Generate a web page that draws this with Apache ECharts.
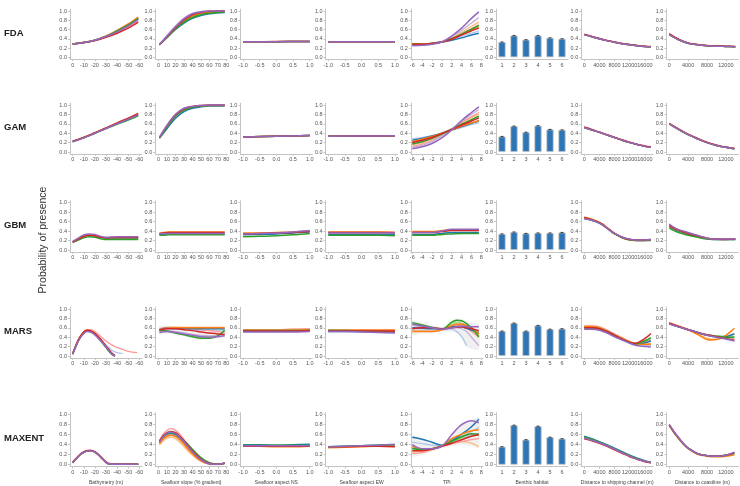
<!DOCTYPE html>
<html><head><meta charset="utf-8">
<script src="https://cdn.jsdelivr.net/npm/echarts@6/dist/echarts.min.js"></script>
<style>html,body{margin:0;padding:0;background:#fff}#c{width:740px;height:486px}</style>
</head><body><div id="c"></div>
<script>
// ---------------- labels & ticks ----------------
const models = ['FDA','GAM','GBM','MARS','MAXENT'];
const variables = ['Bathymetry (m)','Seafloor slope (% gradient)','Seafloor aspect NS','Seafloor aspect EW','TPI','Benthic habitat','Distance to shipping channel (m)','Distance to coastline (m)'];
const yTitle = 'Probability of presence';
const yTicks = [0,0.2,0.4,0.6,0.8,1.0];
const bathyTicks = [0,-10,-20,-30,-40,-50,-60];
const slopeTicks = [0,10,20,30,40,50,60,70,80];
const aspectTicks = [-1,-0.5,0,0.5,1];
const tpiTicks = [-6,-4,-2,0,2,4,6,8];
const habitatCats = ['1','2','3','4','5','6'];
const shipTicks = [0,4000,8000,12000,16000];
const coastTicks = [0,4000,8000,12000];

// line order in every panel: blue, orange, green, red, purple ; light: lightblue, lightorange, lightgreen, pink, lightpurple
// ---------------- FDA ----------------
const fdaBathyX = [0,-10,-20,-30,-40,-50,-59];
const fdaBathy = [
 [0.29,0.32,0.37,0.45,0.56,0.69,0.83],
 [0.29,0.32,0.37,0.46,0.58,0.72,0.87],
 [0.29,0.32,0.37,0.45,0.57,0.70,0.84],
 [0.29,0.32,0.36,0.43,0.52,0.63,0.76],
 [0.29,0.32,0.37,0.45,0.55,0.68,0.82]];
const fdaBathyLight = [
 [0.29,0.32,0.37,0.45,0.56,0.69,0.84],
 [0.29,0.32,0.37,0.46,0.57,0.71,0.86],
 [0.29,0.32,0.37,0.45,0.56,0.68,0.81],
 [0.29,0.32,0.36,0.44,0.54,0.66,0.79],
 [0.29,0.32,0.37,0.45,0.56,0.70,0.85]];
const fdaSlopeX = [1,10,20,30,40,50,60,70,78];
const fdaSlope = [
 [0.27,0.43,0.60,0.74,0.84,0.90,0.94,0.96,0.97],
 [0.27,0.44,0.62,0.78,0.89,0.95,0.98,0.99,0.99],
 [0.27,0.43,0.61,0.76,0.86,0.92,0.95,0.97,0.98],
 [0.27,0.45,0.64,0.81,0.92,0.97,0.99,1.00,1.00],
 [0.27,0.46,0.66,0.83,0.94,0.98,1.00,1.00,1.00]];
const fdaSlopeLight = [
 [0.27,0.44,0.62,0.77,0.87,0.93,0.96,0.98,0.98],
 [0.27,0.44,0.63,0.79,0.90,0.96,0.98,0.99,0.99],
 [0.27,0.43,0.61,0.77,0.88,0.94,0.97,0.98,0.99],
 [0.27,0.45,0.65,0.82,0.93,0.97,0.99,1.00,1.00],
 [0.28,0.47,0.68,0.85,0.95,0.99,1.00,1.00,1.00]];
const fdaNsX = [-1,0,1];
const fdaNs = [[0.335,0.338,0.342],[0.335,0.338,0.342],[0.335,0.338,0.342],[0.335,0.339,0.343],[0.335,0.338,0.342]];
const fdaEwX = [-1,0,1];
const fdaEw = [[0.337,0.337,0.337],[0.337,0.337,0.337],[0.337,0.337,0.337],[0.337,0.338,0.338],[0.337,0.337,0.337]];
const fdaTpiX = [-6,-4,-2,0,2,4,6,7.5];
const fdaTpi = [
 [0.29,0.29,0.30,0.33,0.37,0.42,0.48,0.52],
 [0.29,0.29,0.30,0.33,0.40,0.49,0.58,0.64],
 [0.28,0.28,0.30,0.33,0.40,0.50,0.61,0.69],
 [0.28,0.28,0.30,0.33,0.39,0.48,0.57,0.63],
 [0.25,0.26,0.28,0.33,0.46,0.63,0.84,0.98]];
const fdaTpiLight = [
 [0.28,0.28,0.30,0.33,0.38,0.45,0.52,0.57],
 [0.28,0.28,0.30,0.34,0.42,0.54,0.67,0.76],
 [0.28,0.28,0.30,0.33,0.40,0.50,0.60,0.66],
 [0.28,0.28,0.30,0.33,0.40,0.51,0.62,0.70],
 [0.27,0.27,0.29,0.34,0.44,0.58,0.74,0.86]];
const fdaHab = [0.33,0.47,0.38,0.47,0.42,0.40];
const fdaShipX = [0,2000,4000,6000,8000,10000,12000,14000,16000,17600];
const fdaShip = [
 [0.49,0.445,0.40,0.36,0.325,0.295,0.27,0.25,0.235,0.23],
 [0.49,0.445,0.40,0.36,0.325,0.295,0.27,0.25,0.235,0.23],
 [0.49,0.445,0.40,0.36,0.325,0.295,0.27,0.25,0.235,0.23],
 [0.50,0.45,0.405,0.365,0.33,0.30,0.275,0.255,0.24,0.235],
 [0.49,0.445,0.40,0.36,0.325,0.295,0.27,0.25,0.235,0.23]];
const fdaCoastX = [0,2000,4000,6000,8000,10000,12000,14000];
const fdaCoast = [
 [0.49,0.38,0.305,0.27,0.25,0.24,0.235,0.23],
 [0.49,0.38,0.305,0.27,0.25,0.24,0.235,0.23],
 [0.49,0.38,0.305,0.27,0.25,0.24,0.235,0.23],
 [0.51,0.39,0.31,0.275,0.255,0.245,0.24,0.235],
 [0.49,0.38,0.305,0.27,0.25,0.24,0.235,0.23]];

// ---------------- GAM ----------------
const gamBathyX = [0,-10,-20,-30,-40,-50,-59];
const gamBathy = [
 [0.23,0.31,0.40,0.50,0.60,0.69,0.78],
 [0.23,0.31,0.41,0.51,0.61,0.71,0.80],
 [0.22,0.30,0.40,0.50,0.59,0.68,0.77],
 [0.23,0.31,0.41,0.51,0.62,0.72,0.82],
 [0.22,0.30,0.40,0.50,0.60,0.70,0.79]];
const gamSlopeX = [1,10,20,30,40,50,60,70,78];
const gamSlope = [
 [0.29,0.50,0.72,0.86,0.93,0.96,0.98,0.98,0.98],
 [0.30,0.54,0.77,0.90,0.96,0.98,0.99,0.99,0.99],
 [0.30,0.53,0.76,0.89,0.95,0.98,0.99,0.99,0.99],
 [0.31,0.56,0.79,0.92,0.97,0.99,1.00,1.00,1.00],
 [0.31,0.57,0.80,0.93,0.97,0.99,1.00,1.00,1.00]];
const gamNsX = [-1,0,1];
const gamNs = [[0.32,0.335,0.35],[0.32,0.335,0.35],[0.32,0.335,0.35],[0.32,0.336,0.352],[0.32,0.335,0.35]];
const gamEwX = [-1,0,1];
const gamEw = [[0.335,0.34,0.345],[0.335,0.34,0.345],[0.335,0.34,0.345],[0.335,0.34,0.345],[0.335,0.34,0.345]];
const gamTpiX = [-6,-4,-2,0,2,4,6,7.5];
const gamTpi = [
 [0.25,0.29,0.34,0.40,0.47,0.54,0.61,0.66],
 [0.22,0.27,0.33,0.40,0.47,0.55,0.62,0.67],
 [0.17,0.22,0.29,0.38,0.48,0.59,0.69,0.76],
 [0.20,0.25,0.31,0.39,0.48,0.57,0.66,0.72],
 [0.07,0.11,0.18,0.30,0.47,0.67,0.84,0.96]];
const gamTpiLight = [
 [0.28,0.31,0.35,0.40,0.46,0.52,0.58,0.62],
 [0.15,0.20,0.28,0.38,0.50,0.62,0.73,0.80],
 [0.20,0.25,0.32,0.40,0.49,0.58,0.67,0.73],
 [0.12,0.17,0.25,0.36,0.49,0.63,0.75,0.84],
 [0.10,0.14,0.22,0.34,0.49,0.65,0.80,0.90]];
const gamHab = [0.33,0.55,0.42,0.56,0.48,0.47];
const gamShipX = [0,2000,4000,6000,8000,10000,12000,14000,16000,17600];
const gamShip = [
 [0.52,0.47,0.42,0.36,0.31,0.25,0.20,0.16,0.12,0.10],
 [0.52,0.47,0.42,0.36,0.31,0.25,0.20,0.16,0.12,0.10],
 [0.52,0.47,0.42,0.36,0.31,0.25,0.20,0.16,0.12,0.10],
 [0.53,0.48,0.42,0.37,0.31,0.26,0.21,0.16,0.13,0.11],
 [0.52,0.47,0.42,0.36,0.31,0.25,0.20,0.16,0.12,0.10]];
const gamCoastX = [0,2000,4000,6000,8000,10000,12000,13800];
const gamCoast = [
 [0.60,0.48,0.37,0.28,0.20,0.14,0.10,0.07],
 [0.60,0.48,0.37,0.28,0.20,0.14,0.10,0.07],
 [0.60,0.48,0.37,0.28,0.20,0.14,0.10,0.07],
 [0.61,0.49,0.38,0.29,0.21,0.15,0.10,0.08],
 [0.60,0.48,0.37,0.28,0.20,0.14,0.10,0.07]];

// ---------------- GBM ----------------
const gbmBathyX = [0,-5,-10,-15,-20,-25,-30,-40,-50,-59];
const gbmBathy = [
 [0.17,0.23,0.29,0.31,0.30,0.27,0.25,0.25,0.25,0.25],
 [0.17,0.23,0.29,0.32,0.31,0.28,0.26,0.26,0.26,0.26],
 [0.16,0.21,0.26,0.28,0.27,0.24,0.22,0.22,0.22,0.22],
 [0.17,0.23,0.29,0.31,0.30,0.27,0.26,0.27,0.27,0.27],
 [0.18,0.25,0.32,0.34,0.33,0.29,0.27,0.28,0.28,0.28]];
const gbmSlopeX = [1,6,12,78];
const gbmSlope = [
 [0.33,0.34,0.34,0.34],
 [0.35,0.37,0.38,0.38],
 [0.31,0.31,0.32,0.32],
 [0.35,0.36,0.37,0.37],
 [0.34,0.35,0.35,0.35]];
const gbmNsX = [-1,-0.5,0,0.5,1];
const gbmNs = [
 [0.32,0.33,0.34,0.36,0.38],
 [0.36,0.36,0.37,0.38,0.40],
 [0.28,0.29,0.30,0.32,0.35],
 [0.34,0.35,0.36,0.37,0.39],
 [0.34,0.35,0.36,0.38,0.41]];
const gbmEwX = [-1,-0.5,0,0.5,1];
const gbmEw = [
 [0.33,0.33,0.33,0.33,0.33],
 [0.38,0.38,0.38,0.38,0.37],
 [0.31,0.31,0.31,0.31,0.30],
 [0.37,0.37,0.37,0.37,0.37],
 [0.36,0.36,0.36,0.36,0.36]];
const gbmTpiX = [-6,-4,-2,0,2,4,6,7.5];
const gbmTpi = [
 [0.33,0.33,0.33,0.35,0.37,0.37,0.37,0.37],
 [0.39,0.39,0.39,0.41,0.43,0.43,0.43,0.43],
 [0.31,0.31,0.31,0.33,0.34,0.35,0.35,0.35],
 [0.37,0.37,0.37,0.39,0.41,0.41,0.41,0.41],
 [0.37,0.37,0.37,0.40,0.44,0.44,0.44,0.44]];
const gbmHab = [0.34,0.38,0.35,0.36,0.36,0.37];
const gbmShipX = [0,2000,4000,5000,6000,7000,8000,10000,12000,14000,16000,17600];
const gbmShip = [
 [0.67,0.63,0.57,0.52,0.46,0.40,0.35,0.27,0.22,0.20,0.20,0.21],
 [0.70,0.65,0.59,0.54,0.47,0.41,0.35,0.26,0.22,0.20,0.20,0.21],
 [0.67,0.63,0.57,0.52,0.46,0.40,0.34,0.26,0.21,0.20,0.20,0.20],
 [0.68,0.64,0.58,0.53,0.47,0.41,0.35,0.27,0.22,0.21,0.21,0.22],
 [0.66,0.63,0.57,0.52,0.46,0.40,0.35,0.27,0.23,0.21,0.21,0.22]];
const gbmCoastX = [0,1000,2000,3000,4000,5000,6000,8000,10000,12000,14000];
const gbmCoast = [
 [0.50,0.44,0.40,0.37,0.34,0.31,0.29,0.24,0.22,0.22,0.22],
 [0.51,0.46,0.42,0.39,0.36,0.33,0.30,0.25,0.23,0.23,0.23],
 [0.47,0.41,0.37,0.34,0.31,0.29,0.27,0.23,0.22,0.22,0.22],
 [0.52,0.46,0.42,0.38,0.35,0.32,0.30,0.25,0.23,0.22,0.23],
 [0.55,0.48,0.43,0.40,0.37,0.34,0.31,0.25,0.23,0.23,0.23]];

// ---------------- MARS ----------------
const marsBathyX = [0,-3,-6,-10,-13,-16,-20,-25,-30,-35,-38,-45,-50,-58];
const marsBathy = [
 [0.04,0.22,0.37,0.50,0.54,0.53,0.47,0.35,0.20,0.06,0.00,null,null,null],
 [0.05,0.23,0.38,0.51,0.55,0.54,0.48,0.35,0.19,0.05,0.00,null,null,null],
 [0.04,0.21,0.36,0.49,0.53,0.52,0.46,0.33,0.18,0.04,0.00,null,null,null],
 [0.05,0.23,0.38,0.51,0.55,0.54,0.48,0.36,0.21,0.07,0.01,null,null,null],
 [0.04,0.21,0.36,0.48,0.52,0.51,0.45,0.33,0.19,0.05,0.00,null,null,null]];
const marsBathyLight = [
 [0.04,0.22,0.37,0.50,0.54,0.53,0.48,0.37,0.24,0.13,0.09,0.05,null,null],
 [0.05,0.23,0.38,0.51,0.55,0.54,0.48,0.35,0.20,0.06,0.01,null,null,null],
 [0.04,0.22,0.37,0.50,0.54,0.53,0.47,0.34,0.20,0.06,0.01,null,null,null],
 [0.05,0.23,0.38,0.51,0.56,0.56,0.52,0.42,0.32,0.24,0.20,0.14,0.10,0.07],
 [0.04,0.22,0.37,0.50,0.54,0.53,0.47,0.34,0.19,0.05,0.00,null,null,null]];
const marsSlopeX = [1,10,20,30,40,50,60,70,78];
const marsSlope = [
 [0.56,0.59,0.59,0.59,0.58,0.58,0.58,0.58,0.58],
 [0.55,0.59,0.60,0.60,0.60,0.60,0.60,0.60,0.60],
 [0.55,0.53,0.49,0.45,0.41,0.38,0.38,0.43,0.55],
 [0.55,0.58,0.58,0.56,0.54,0.51,0.49,0.47,0.46],
 [0.50,0.52,0.50,0.47,0.44,0.41,0.40,0.41,0.43]];
const marsSlopeLight = [
 [0.54,0.57,0.57,0.56,0.55,0.55,0.55,0.55,0.55],
 [0.57,0.61,0.61,0.61,0.61,0.61,0.61,0.61,0.61],
 [0.53,0.52,0.49,0.46,0.43,0.41,0.41,0.45,0.52],
 [0.58,0.61,0.61,0.60,0.58,0.56,0.54,0.52,0.50],
 [0.52,0.54,0.52,0.49,0.46,0.44,0.43,0.44,0.46]];
const marsSlopeBand = [
 [0.46,0.48,0.46,0.42,0.38,0.35,0.35,0.38,0.40],
 [0.63,0.64,0.64,0.63,0.63,0.63,0.63,0.63,0.63]];
const marsNsX = [-1,-0.5,0,0.5,1];
const marsNs = [
 [0.53,0.53,0.53,0.53,0.54],
 [0.55,0.55,0.55,0.55,0.56],
 [0.54,0.54,0.54,0.54,0.54],
 [0.53,0.53,0.53,0.53,0.54],
 [0.51,0.51,0.51,0.51,0.52]];
const marsNsLight = [
 [0.54,0.54,0.54,0.54,0.55],
 [0.56,0.56,0.56,0.57,0.58],
 [0.55,0.55,0.55,0.55,0.56],
 [0.56,0.56,0.56,0.57,0.58],
 [0.52,0.52,0.52,0.52,0.53]];
const marsEwX = [-1,-0.5,0,0.5,1];
const marsEw = [
 [0.52,0.52,0.52,0.52,0.52],
 [0.54,0.55,0.55,0.55,0.55],
 [0.55,0.54,0.53,0.52,0.51],
 [0.53,0.53,0.53,0.53,0.53],
 [0.52,0.52,0.51,0.50,0.49]];
const marsEwLight = [
 [0.53,0.53,0.53,0.53,0.53],
 [0.56,0.56,0.56,0.56,0.56],
 [0.54,0.54,0.53,0.53,0.52],
 [0.55,0.55,0.55,0.55,0.56],
 [0.53,0.53,0.52,0.52,0.51]];
const marsTpiX = [-6,-4,-2,0,2,3,4,5,6,7.5];
const marsTpi = [
 [0.60,0.59,0.58,0.58,0.62,0.63,0.62,0.59,0.55,0.50],
 [0.52,0.52,0.52,0.56,0.65,0.68,0.68,0.65,0.60,0.47],
 [0.71,0.66,0.61,0.57,0.72,0.76,0.75,0.69,0.60,0.41],
 [0.58,0.60,0.60,0.58,0.60,0.61,0.62,0.60,0.58,0.54],
 [0.68,0.64,0.60,0.57,0.60,0.62,0.64,0.63,0.62,0.62]];
const marsTpiLight = [
 [0.55,0.55,0.55,0.56,0.57,0.52,0.42,0.22,null,null],
 [0.53,0.53,0.53,0.55,0.63,0.66,0.66,0.62,0.55,0.45],
 [0.68,0.64,0.60,0.57,0.68,0.72,0.70,0.64,0.55,0.40],
 [0.60,0.60,0.59,0.58,0.62,0.64,0.64,0.60,0.52,0.40],
 [0.65,0.62,0.59,0.57,0.60,0.60,0.58,0.52,0.40,0.22]];
const marsTpiBand = [
 [0.46,0.48,0.50,0.52,0.52,0.48,0.38,0.20,0.15,0.14],
 [0.75,0.70,0.65,0.62,0.76,0.80,0.79,0.75,0.70,0.68]];
const marsHab = [0.53,0.70,0.53,0.65,0.57,0.58];
const marsShipX = [0,2000,4000,6000,8000,10000,12000,13500,15000,16500,17600];
const marsShip = [
 [0.60,0.60,0.58,0.52,0.44,0.36,0.29,0.25,0.26,0.29,0.32],
 [0.62,0.62,0.60,0.53,0.45,0.37,0.30,0.26,0.25,0.25,0.25],
 [0.60,0.60,0.58,0.52,0.44,0.36,0.29,0.26,0.29,0.34,0.39],
 [0.60,0.60,0.58,0.52,0.44,0.36,0.29,0.27,0.32,0.40,0.48],
 [0.57,0.57,0.55,0.49,0.41,0.34,0.27,0.23,0.21,0.20,0.19]];
const marsShipLight = [
 [0.61,0.61,0.59,0.53,0.45,0.37,0.30,0.26,0.27,0.30,0.33],
 [0.64,0.64,0.62,0.55,0.47,0.39,0.31,0.27,0.26,0.26,0.27],
 [0.61,0.61,0.59,0.53,0.45,0.37,0.30,0.27,0.30,0.33,0.36],
 [0.64,0.64,0.62,0.55,0.47,0.39,0.31,0.27,0.28,0.31,0.34],
 [0.59,0.59,0.57,0.51,0.43,0.35,0.28,0.24,0.23,0.23,0.23]];
const marsCoastX = [0,2000,4000,6000,7000,8000,9000,10000,11000,12000,13000,13800];
const marsCoast = [
 [0.69,0.62,0.56,0.50,0.47,0.44,0.42,0.41,0.40,0.41,0.44,0.47],
 [0.70,0.63,0.56,0.46,0.40,0.35,0.34,0.35,0.38,0.44,0.52,0.59],
 [0.69,0.62,0.56,0.50,0.47,0.45,0.43,0.42,0.41,0.40,0.40,0.40],
 [0.70,0.63,0.56,0.50,0.47,0.45,0.43,0.41,0.39,0.37,0.35,0.33],
 [0.68,0.62,0.56,0.50,0.47,0.44,0.42,0.40,0.38,0.36,0.34,0.32]];
const marsCoastLight = [
 [0.70,0.63,0.56,0.50,0.47,0.45,0.43,0.42,0.42,0.43,0.45,0.48],
 [0.71,0.63,0.55,0.47,0.42,0.38,0.36,0.36,0.37,0.40,0.44,0.47],
 [0.69,0.62,0.56,0.50,0.47,0.45,0.44,0.43,0.42,0.42,0.42,0.42],
 [0.71,0.64,0.57,0.51,0.48,0.46,0.44,0.42,0.40,0.39,0.38,0.37],
 [0.69,0.62,0.56,0.50,0.47,0.45,0.43,0.41,0.39,0.38,0.36,0.35]];

// ---------------- MAXENT ----------------
const maxBathyX = [0,-4,-8,-12,-16,-20,-24,-28,-32,-40,-50,-59];
const maxBathy = [
 [0.04,0.14,0.22,0.27,0.28,0.25,0.18,0.09,0.02,0.01,0.01,0.01],
 [0.04,0.14,0.22,0.27,0.28,0.25,0.18,0.09,0.02,0.01,0.01,0.01],
 [0.04,0.14,0.22,0.27,0.28,0.25,0.18,0.09,0.02,0.01,0.01,0.01],
 [0.05,0.15,0.23,0.28,0.29,0.26,0.19,0.10,0.03,0.01,0.01,0.01],
 [0.04,0.14,0.22,0.27,0.28,0.25,0.18,0.09,0.02,0.01,0.01,0.01]];
const maxSlopeX = [1,5,10,15,20,25,30,35,40,45,50,55,60,65,70,78];
const maxSlope = [
 [0.44,0.54,0.61,0.63,0.60,0.54,0.45,0.35,0.26,0.17,0.10,0.05,0.02,0.01,0.01,0.03],
 [0.42,0.51,0.57,0.59,0.56,0.50,0.41,0.31,0.22,0.14,0.08,0.04,0.02,0.01,0.01,0.03],
 [0.46,0.56,0.63,0.64,0.62,0.56,0.48,0.40,0.31,0.22,0.14,0.08,0.04,0.02,0.01,0.03],
 [0.47,0.57,0.64,0.66,0.64,0.57,0.48,0.38,0.28,0.19,0.11,0.06,0.03,0.01,0.01,0.03],
 [0.45,0.55,0.63,0.65,0.62,0.55,0.46,0.36,0.26,0.17,0.10,0.05,0.02,0.01,0.01,0.03]];
const maxSlopeLight = [
 [0.45,0.56,0.64,0.67,0.64,0.57,0.47,0.37,0.27,0.18,0.10,0.05,0.02,0.01,0.01,0.03],
 [0.40,0.47,0.53,0.55,0.52,0.45,0.36,0.27,0.19,0.12,0.07,0.03,0.01,0.00,0.00,0.02],
 [0.44,0.53,0.60,0.62,0.59,0.53,0.45,0.36,0.27,0.19,0.12,0.07,0.03,0.01,0.01,0.03],
 [0.48,0.60,0.69,0.72,0.69,0.61,0.50,0.39,0.28,0.18,0.10,0.05,0.02,0.01,0.01,0.03],
 [0.43,0.52,0.59,0.61,0.58,0.51,0.42,0.32,0.23,0.15,0.08,0.04,0.02,0.01,0.01,0.03]];
const maxSlopeBand = [
 [0.38,0.45,0.50,0.52,0.50,0.43,0.35,0.26,0.18,0.11,0.06,0.02,0.00,0.00,0.00,0.01],
 [0.50,0.62,0.71,0.74,0.71,0.64,0.54,0.43,0.33,0.24,0.16,0.10,0.06,0.03,0.02,0.05]];
const maxNsX = [-1,-0.5,0,0.5,1];
const maxNs = [
 [0.40,0.40,0.39,0.40,0.41],
 [0.38,0.37,0.36,0.36,0.37],
 [0.39,0.39,0.39,0.39,0.39],
 [0.37,0.37,0.37,0.37,0.37],
 [0.38,0.38,0.38,0.38,0.38]];
const maxEwX = [-1,-0.5,0,0.5,1];
const maxEw = [
 [0.36,0.37,0.38,0.39,0.40],
 [0.34,0.35,0.36,0.37,0.37],
 [0.36,0.37,0.38,0.39,0.40],
 [0.36,0.36,0.37,0.37,0.36],
 [0.36,0.37,0.38,0.39,0.41]];
const maxTpiX = [-6,-4,-2,0,2,4,6,7.5];
const maxTpi = [
 [0.55,0.51,0.45,0.39,0.48,0.61,0.76,0.91],
 [0.37,0.30,0.32,0.38,0.52,0.61,0.68,0.70],
 [0.33,0.30,0.32,0.37,0.47,0.56,0.62,0.61],
 [0.28,0.28,0.31,0.37,0.43,0.50,0.57,0.60],
 [0.40,0.32,0.32,0.37,0.60,0.80,0.88,0.84]];
const maxTpiLight = [
 [0.45,0.42,0.39,0.37,0.44,0.55,0.66,0.75],
 [0.25,0.27,0.31,0.37,0.42,0.46,0.43,0.36],
 [0.30,0.29,0.31,0.37,0.45,0.53,0.58,0.59],
 [0.22,0.24,0.30,0.37,0.42,0.46,0.50,0.52],
 [0.32,0.30,0.32,0.37,0.48,0.56,0.60,0.62]];
const maxTpiBand = [
 [0.17,0.20,0.26,0.33,0.37,0.40,0.38,0.33],
 [0.58,0.52,0.46,0.42,0.60,0.80,0.90,0.94]];
const maxHab = [0.36,0.79,0.50,0.77,0.55,0.52];
const maxShipX = [0,2000,4000,6000,8000,10000,12000,14000,16000,17600];
const maxShip = [
 [0.57,0.52,0.46,0.40,0.33,0.26,0.19,0.13,0.08,0.05],
 [0.54,0.50,0.44,0.38,0.31,0.24,0.17,0.11,0.07,0.04],
 [0.55,0.51,0.45,0.39,0.32,0.25,0.18,0.12,0.07,0.05],
 [0.52,0.48,0.43,0.37,0.30,0.23,0.16,0.11,0.06,0.04],
 [0.53,0.49,0.44,0.38,0.31,0.24,0.17,0.11,0.07,0.04]];
const maxCoastX = [0,1000,2000,3000,4000,6000,8000,10000,12000,13800];
const maxCoast = [
 [0.79,0.65,0.53,0.42,0.33,0.22,0.18,0.17,0.19,0.23],
 [0.78,0.64,0.52,0.41,0.32,0.21,0.17,0.16,0.17,0.20],
 [0.79,0.65,0.53,0.42,0.33,0.22,0.18,0.17,0.19,0.23],
 [0.80,0.66,0.54,0.42,0.33,0.22,0.18,0.17,0.19,0.24],
 [0.80,0.66,0.54,0.42,0.33,0.22,0.18,0.17,0.19,0.25]];

// ---------------- assembly table ----------------
const P = (x, lines, light, band) => ({x, lines, light: light || [], band: band || null});
const panels = [
 [P(fdaBathyX,fdaBathy,fdaBathyLight),P(fdaSlopeX,fdaSlope,fdaSlopeLight),P(fdaNsX,fdaNs),P(fdaEwX,fdaEw),P(fdaTpiX,fdaTpi,fdaTpiLight),fdaHab,P(fdaShipX,fdaShip),P(fdaCoastX,fdaCoast)],
 [P(gamBathyX,gamBathy),P(gamSlopeX,gamSlope),P(gamNsX,gamNs),P(gamEwX,gamEw),P(gamTpiX,gamTpi,gamTpiLight),gamHab,P(gamShipX,gamShip),P(gamCoastX,gamCoast)],
 [P(gbmBathyX,gbmBathy),P(gbmSlopeX,gbmSlope),P(gbmNsX,gbmNs),P(gbmEwX,gbmEw),P(gbmTpiX,gbmTpi),gbmHab,P(gbmShipX,gbmShip),P(gbmCoastX,gbmCoast)],
 [P(marsBathyX,marsBathy,marsBathyLight),P(marsSlopeX,marsSlope,marsSlopeLight,marsSlopeBand),P(marsNsX,marsNs,marsNsLight),P(marsEwX,marsEw,marsEwLight),P(marsTpiX,marsTpi,marsTpiLight,marsTpiBand),marsHab,P(marsShipX,marsShip,marsShipLight),P(marsCoastX,marsCoast,marsCoastLight)],
 [P(maxBathyX,maxBathy),P(maxSlopeX,maxSlope,maxSlopeLight,maxSlopeBand),P(maxNsX,maxNs),P(maxEwX,maxEw),P(maxTpiX,maxTpi,maxTpiLight,maxTpiBand),maxHab,P(maxShipX,maxShip),P(maxCoastX,maxCoast)]
];

// ---------------- layout & style ----------------
const MAIN = ['#1f77b4','#ff7f0e','#2ca02c','#d62728','#9467bd'];
const LIGHT = ['#aec7e8','#ffbb78','#98df8a','#ff9896','#c5b0d5'];
const colLeft = [70,155.2,240.4,325.6,410.8,496,581.2,666.4];
const panelW = 72;
const rowY = [[11,57.3],[105,152],[202.7,250],[309,356],[414.7,464.7]];
const xRange = [[-62.4,2.4],[-4,81],[-1.08,1.08],[-1.08,1.08],[-6.3,8.3],null,[-800,18200],[-600,14650]];
const xTicks = [bathyTicks,slopeTicks,aspectTicks,aspectTicks,tpiTicks,null,shipTicks,coastTicks];
const FONT = 'Liberation Sans, Arial, sans-serif';
const AX = '#c4c4c4';
const LBL = '#555';

const grids=[], xAxes=[], yAxes=[], series=[], graphics=[];
let g = 0;
for (let r=0;r<5;r++){
  const [y1,y0] = rowY[r];
  const h = y0 - y1;
  for (let c=0;c<8;c++){
    grids.push({left:colLeft[c], top:y1-0.04*h, width:panelW, height:1.08*h});
    const nameOpt = r===4 ? {name:variables[c], nameLocation:'middle', nameGap:13, nameTextStyle:{fontSize:5, color:'#444', fontFamily:FONT}} : {};
    const lab = {fontSize:5.5, color:LBL, margin:3, fontFamily:FONT};
    yAxes.push({gridIndex:g, type:'value', min:-0.04, max:1.04,
      axisLine:{show:true, onZero:false, lineStyle:{color:AX, width:1}},
      axisTick:{show:true, length:2, lineStyle:{color:AX}, customValues:yTicks},
      axisLabel:Object.assign({customValues:yTicks, formatter:v=>v.toFixed(1)}, lab),
      splitLine:{show:false}});
    if (c===5){
      xAxes.push(Object.assign({gridIndex:g, type:'category', data:habitatCats,
        axisLine:{show:true, onZero:false, lineStyle:{color:AX, width:1}},
        axisTick:{show:false}, axisLabel:lab, splitLine:{show:false}}, nameOpt));
      const vals = panels[r][c];
      series.push({type:'bar', xAxisIndex:g, yAxisIndex:g, data:vals, barWidth:'60%',
        itemStyle:{color:'#2e75b6', borderColor:'#c8c8c8', borderWidth:0.8}, silent:true});
      series.push({type:'scatter', xAxisIndex:g, yAxisIndex:g, data:vals, symbol:'rect', symbolSize:[3,1.2],
        itemStyle:{color:'#222'}, silent:true, z:5});
    } else {
      const t = xTicks[c];
      const fmt = c===2||c===3 ? (v=>v.toFixed(1)) : (v=>String(Math.round(v)));
      xAxes.push(Object.assign({gridIndex:g, type:'value', min:xRange[c][0], max:xRange[c][1], inverse:c===0,
        axisLine:{show:true, onZero:false, lineStyle:{color:AX, width:1}},
        axisTick:{show:true, length:2, lineStyle:{color:AX}, customValues:t},
        axisLabel:Object.assign({customValues:t, formatter:fmt}, lab),
        splitLine:{show:false}}, nameOpt));
      const p = panels[r][c];
      const pts = ys => p.x.map((x,i)=>[x, ys[i]]);
      if (p.band){
        const band = p.band, bx = p.x;
        series.push({type:'custom', xAxisIndex:g, yAxisIndex:g, silent:true, z:1, data:[[bx[0], band[0][0]]],
          renderItem:(params, api)=>{
            const up = bx.map((x,i)=>api.coord([x, band[1][i]]));
            const lo = bx.map((x,i)=>api.coord([x, band[0][i]])).reverse();
            return {type:'polygon', shape:{points:up.concat(lo), smooth:0.25},
              style:{fill:'rgba(200,200,200,0.28)'}};
          }});
      }
      p.light.forEach((ys,k)=>{
        series.push({type:'line', xAxisIndex:g, yAxisIndex:g, smooth:0.35, showSymbol:false, silent:true,
          lineStyle:{color:LIGHT[k], width:1.3}, data:pts(ys)});
      });
      p.lines.forEach((ys,k)=>{
        series.push({type:'line', xAxisIndex:g, yAxisIndex:g, smooth:0.35, showSymbol:false, silent:true,
          lineStyle:{color:MAIN[k], width:1.5}, data:pts(ys)});
      });
    }
    g++;
  }
  graphics.push({type:'text', left:4, top:(y1+y0)/2-6,
    style:{text:models[r], font:'bold 9.5px '+FONT, fill:'#222'}});
}
graphics.push({type:'text', x:43, y:240, rotation:Math.PI/2,
  style:{text:yTitle, font:'10.5px '+FONT, fill:'#333', textAlign:'center', textVerticalAlign:'middle'}});

const chart = echarts.init(document.getElementById('c'), null, {renderer:'canvas'});
chart.setOption({animation:false, backgroundColor:'#fff', grid:grids, xAxis:xAxes, yAxis:yAxes, series, graphic:graphics});
</script></body></html>
